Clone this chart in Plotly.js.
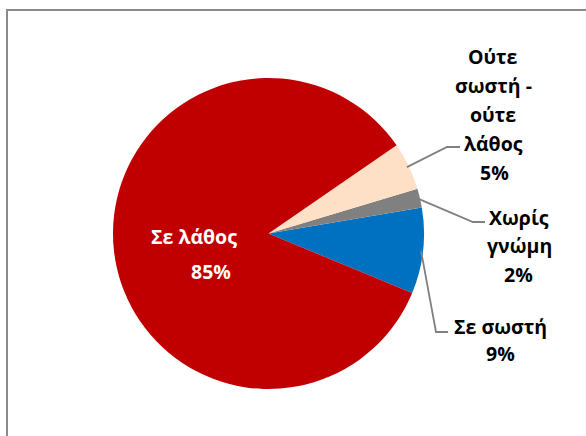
<!DOCTYPE html>
<html>
<head>
<meta charset="utf-8">
<script src="https://cdn.plot.ly/plotly-3.0.1.min.js"></script>
<style>html,body{margin:0;padding:0;background:#fff;}#chart{width:586px;height:436px;}</style>
</head>
<body>
<div id="chart"></div>
<script>
// ---- data ----
const categories = ['Σε σωστή', 'Χωρίς γνώμη', 'Ούτε σωστή - ούτε λάθος', 'Σε λάθος'];
const displayLabels = ['Σε σωστή', 'Χωρίς<br>γνώμη', 'Ούτε<br>σωστή -<br>ούτε<br>λάθος', 'Σε λάθος'];
const values = [9, 2, 5, 85];
const colors = ['#0070C0', '#808080', '#FDE0C5', '#C00000'];

// ---- layout helpers ----
const W = 586, H = 436;
const cx = 268.5, cy = 233.5, R = 155.5;
const startAngle = -22.5; // math degrees, first slice start, counterclockwise
const px = x => x / W;
const py = y => 1 - y / H;

// label placement (pixels): x of text lines, x of percent line, y of first line, line step, colour
const labelPlace = [
  {x: 500, xp: 500, y: 326, dy: 27, color: '#000'},
  {x: 519, xp: 518, y: 217, dy: 28.5, color: '#000'},
  {x: 493, xp: 494, y: 56, dy: 29, color: '#000'},
  {x: 194, xp: 211, y: 236, dy: 35, color: '#fff'}
];
// leader line elbows (pixels) for outside labels: [elbow, end] or null
const leaders = [
  [[436, 332], [448, 332]],
  [[473, 222], [485, 222]],
  [[447, 147], [460, 147]],
  null
];

const total = values.reduce((a, b) => a + b, 0);
const annotations = [];
const shapes = [];
let cum = 0;
values.forEach((v, i) => {
  const mid = startAngle + (cum + v / 2) / total * 360;
  cum += v;
  const lp = labelPlace[i];
  const lines = displayLabels[i].split('<br>');
  lines.push(v + '%');
  lines.forEach((t, k) => {
    annotations.push({
      xref: 'paper', yref: 'paper',
      x: px(k === lines.length - 1 ? lp.xp : lp.x), y: py(lp.y + k * lp.dy),
      xanchor: 'center', yanchor: 'middle', showarrow: false,
      text: '<b>' + t + '</b>',
      font: {family: 'Open Sans, sans-serif', size: 19.5, color: lp.color}
    });
  });
  if (leaders[i]) {
    const a = mid * Math.PI / 180;
    const sx = cx + (R - 2) * Math.cos(a), sy = cy - (R - 2) * Math.sin(a);
    const [e, f] = leaders[i];
    shapes.push({
      type: 'path', xref: 'paper', yref: 'paper',
      path: `M ${px(sx)} ${py(sy)} L ${px(e[0])} ${py(e[1])} L ${px(f[0])} ${py(f[1])}`,
      line: {color: '#808080', width: 1.8}
    });
  }
});

// outer frame
shapes.push({
  type: 'rect', xref: 'paper', yref: 'paper',
  x0: px(7), x1: px(W + 20), y0: py(H + 20), y1: py(10),
  line: {color: '#8a8a8a', width: 2}, fillcolor: 'rgba(0,0,0,0)', layer: 'above'
});

// Plotly counterclockwise: first slice occupies [rotation, rotation + span] measured clockwise from 12 o'clock
const firstSpan = values[0] / total * 360;
const trace = {
  type: 'pie',
  labels: categories,
  values: values,
  sort: false,
  direction: 'counterclockwise',
  rotation: 90 - startAngle - firstSpan,
  marker: {colors: colors, line: {width: 0}},
  textinfo: 'none',
  hoverinfo: 'label+percent',
  showlegend: false,
  domain: {x: [px(cx - R), px(cx + R)], y: [py(cy + R), py(cy - R)]}
};

Plotly.newPlot('chart', [trace], {
  width: W, height: H,
  margin: {l: 0, r: 0, t: 0, b: 0},
  paper_bgcolor: '#ffffff',
  showlegend: false,
  annotations: annotations,
  shapes: shapes
}, {displayModeBar: false, staticPlot: true});
</script>
</body>
</html>
